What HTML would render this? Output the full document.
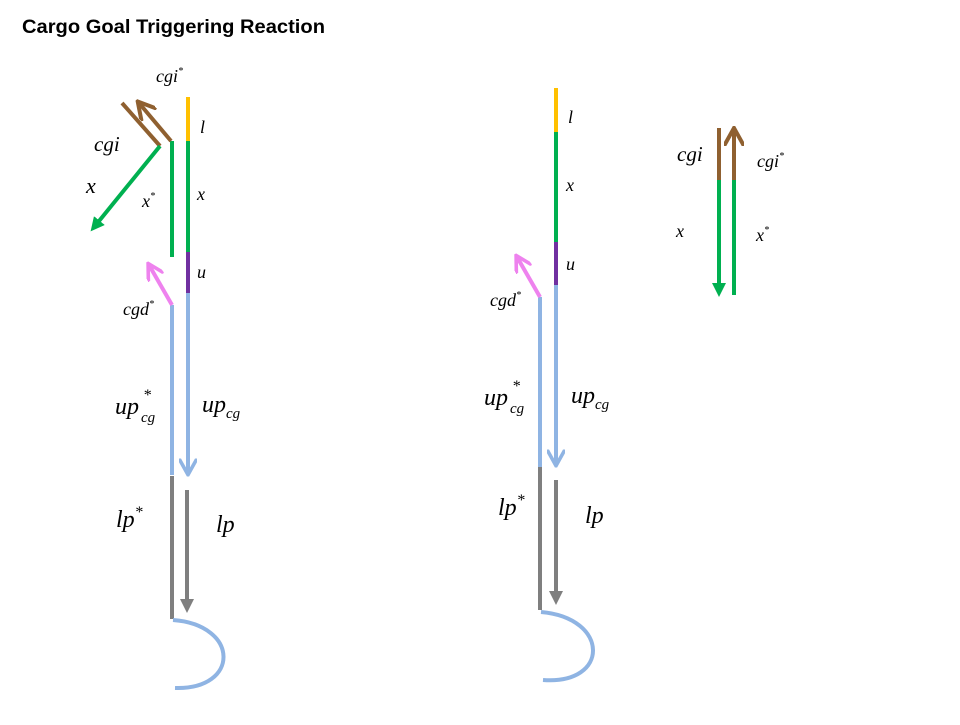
<!DOCTYPE html>
<html><head><meta charset="utf-8"><style>
body{margin:0;background:#fff;}
svg text{font-family:"Liberation Serif",serif;font-style:italic;fill:#000;}
</style></head><body>
<svg width="960" height="720" viewBox="0 0 960 720" xmlns="http://www.w3.org/2000/svg">
<defs>
<marker id="ag" viewBox="0 0 10 10" refX="5" refY="5" markerWidth="3.5" markerHeight="3.5" orient="auto"><path d="M0,0 L10,5 L0,10 z" fill="#00b050"/></marker>
<marker id="agr" viewBox="0 0 10 10" refX="5" refY="5" markerWidth="3.5" markerHeight="3.5" orient="auto"><path d="M0,0 L10,5 L0,10 z" fill="#7f7f7f"/></marker>
<marker id="ob" viewBox="0 0 10 10" refX="8" refY="5" markerWidth="5" markerHeight="5" orient="auto"><path d="M0,0 L9,5 L0,10" fill="none" stroke="#8f6030" stroke-width="2"/></marker>
<marker id="op" viewBox="0 0 10 10" refX="8" refY="5" markerWidth="4.5" markerHeight="4.5" orient="auto"><path d="M0,0 L9,5 L0,10" fill="none" stroke="#ee82ee" stroke-width="2"/></marker>
<marker id="obl" viewBox="0 0 10 10" refX="8" refY="5" markerWidth="4.5" markerHeight="4.5" orient="auto"><path d="M0,0 L9,5 L0,10" fill="none" stroke="#8fb4e3" stroke-width="2"/></marker>
</defs>
<text x="22" y="33" style="font-family:'Liberation Sans',sans-serif;font-style:normal;font-weight:bold;font-size:19px" textLength="303" lengthAdjust="spacingAndGlyphs">Cargo Goal Triggering Reaction</text>
<g fill="none" stroke-width="4">
<line x1="188" y1="97" x2="188" y2="141" stroke="#ffc000"/>
<line x1="188" y1="141" x2="188" y2="252" stroke="#00b050"/>
<line x1="188" y1="252" x2="188" y2="293" stroke="#7030a0"/>
<line x1="188" y1="293" x2="188" y2="473" stroke="#8fb4e3" marker-end="url(#obl)"/>
<line x1="187" y1="490" x2="187" y2="606" stroke="#7f7f7f" marker-end="url(#agr)"/>
<line x1="172" y1="141" x2="172" y2="257" stroke="#00b050"/>
<line x1="172" y1="305" x2="172" y2="475" stroke="#8fb4e3"/>
<line x1="172" y1="476" x2="172" y2="619" stroke="#7f7f7f"/>
<path d="M173,620 C240,625 240,690 175,688" stroke="#8fb4e3"/>
<line x1="171" y1="141" x2="139" y2="103" stroke="#8f6030" marker-end="url(#ob)"/>
<line x1="160" y1="146" x2="122" y2="103" stroke="#8f6030"/>
<line x1="160" y1="146" x2="95" y2="226" stroke="#00b050" marker-end="url(#ag)"/>
<line x1="172" y1="305" x2="149" y2="265" stroke="#ee82ee" marker-end="url(#op)"/>
<line x1="556" y1="88" x2="556" y2="132" stroke="#ffc000"/>
<line x1="556" y1="132" x2="556" y2="242" stroke="#00b050"/>
<line x1="556" y1="242" x2="556" y2="285" stroke="#7030a0"/>
<line x1="556" y1="285" x2="556" y2="464" stroke="#8fb4e3" marker-end="url(#obl)"/>
<line x1="556" y1="480" x2="556" y2="598" stroke="#7f7f7f" marker-end="url(#agr)"/>
<line x1="540" y1="297" x2="540" y2="467" stroke="#8fb4e3"/>
<line x1="540" y1="467" x2="540" y2="610" stroke="#7f7f7f"/>
<path d="M541,612 C610,618 610,685 543,680" stroke="#8fb4e3"/>
<line x1="540" y1="297" x2="517" y2="257" stroke="#ee82ee" marker-end="url(#op)"/>
<line x1="719" y1="128" x2="719" y2="180" stroke="#8f6030"/>
<line x1="719" y1="180" x2="719" y2="290" stroke="#00b050" marker-end="url(#ag)"/>
<line x1="734" y1="180" x2="734" y2="130" stroke="#8f6030" marker-end="url(#ob)"/>
<line x1="734" y1="180" x2="734" y2="295" stroke="#00b050"/>
</g>
<text x="156" y="82" font-size="18">cgi<tspan font-size="10" dy="-8">*</tspan></text>
<text x="200" y="133" font-size="18">l</text>
<text x="94" y="151" font-size="21">cgi</text>
<text x="86" y="193" font-size="22">x</text>
<text x="142" y="207" font-size="18">x<tspan font-size="10" dy="-8">*</tspan></text>
<text x="197" y="200" font-size="18">x</text>
<text x="197" y="278" font-size="18">u</text>
<text x="123" y="315" font-size="18">cgd<tspan font-size="10" dy="-8">*</tspan></text>
<text x="115" y="414" font-size="24">up</text><text x="143" y="400" font-size="16">*</text><text x="141" y="422" font-size="15">cg</text>
<text x="202" y="412" font-size="24">up<tspan font-size="15" dy="6">cg</tspan></text>
<text x="116" y="527" font-size="24">lp<tspan font-size="16" dy="-10">*</tspan></text>
<text x="216" y="532" font-size="24">lp</text>
<text x="568" y="123" font-size="18">l</text>
<text x="566" y="191" font-size="18">x</text>
<text x="566" y="270" font-size="18">u</text>
<text x="490" y="306" font-size="18">cgd<tspan font-size="10" dy="-8">*</tspan></text>
<text x="484" y="405" font-size="24">up</text><text x="512" y="391" font-size="16">*</text><text x="510" y="413" font-size="15">cg</text>
<text x="571" y="403" font-size="24">up<tspan font-size="15" dy="6">cg</tspan></text>
<text x="498" y="515" font-size="24">lp<tspan font-size="16" dy="-10">*</tspan></text>
<text x="585" y="523" font-size="24">lp</text>
<text x="677" y="161" font-size="21">cgi</text>
<text x="757" y="167" font-size="18">cgi<tspan font-size="10" dy="-8">*</tspan></text>
<text x="676" y="237" font-size="18">x</text>
<text x="756" y="241" font-size="18">x<tspan font-size="10" dy="-8">*</tspan></text>
</svg>
</body></html>
